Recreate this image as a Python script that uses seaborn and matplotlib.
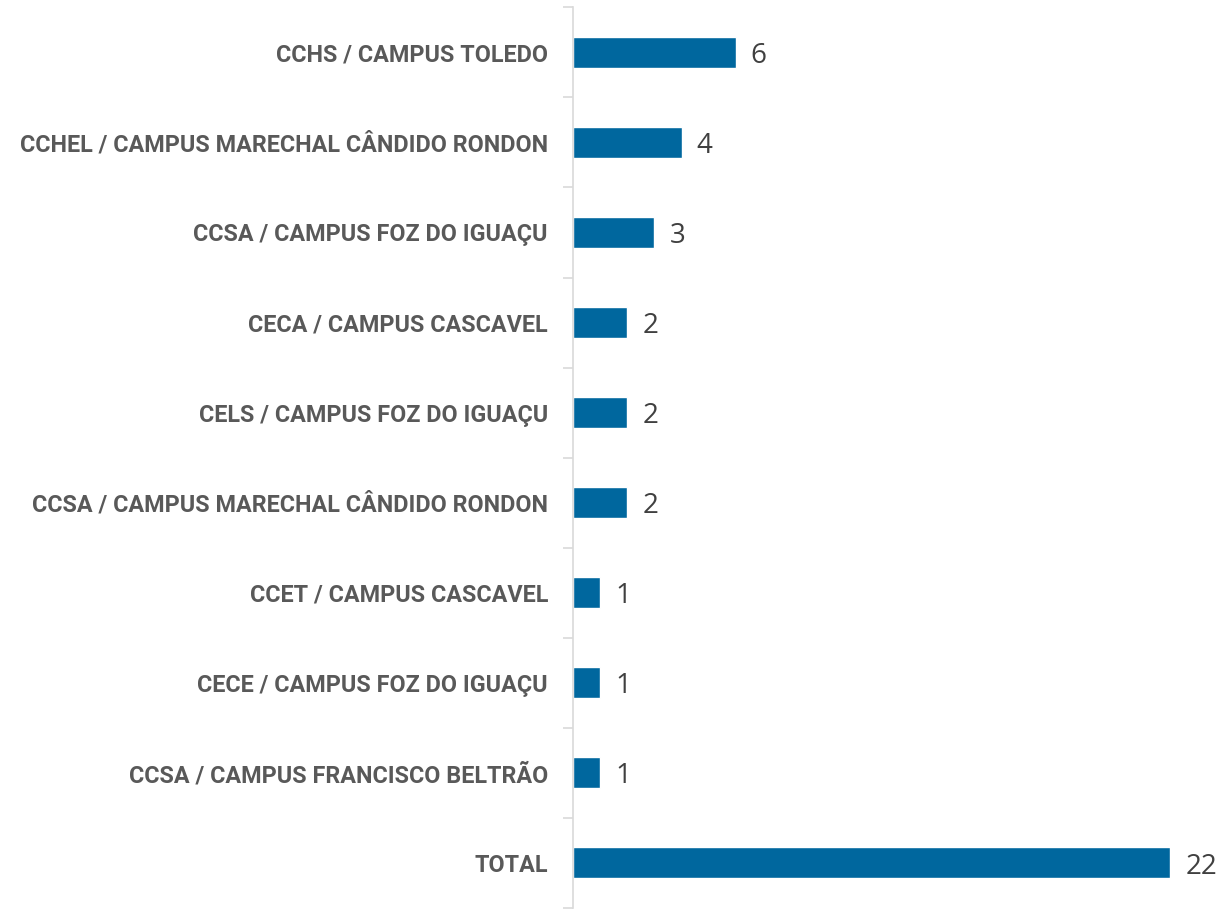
import numpy as np
import pandas as pd
import matplotlib
matplotlib.use("Agg")
import matplotlib.pyplot as plt
import seaborn as sns

categories = [
    "CCHS / CAMPUS TOLEDO",
    "CCHEL / CAMPUS MARECHAL CÂNDIDO RONDON",
    "CCSA / CAMPUS FOZ DO IGUAÇU",
    "CECA / CAMPUS CASCAVEL",
    "CELS / CAMPUS FOZ DO IGUAÇU",
    "CCSA / CAMPUS MARECHAL CÂNDIDO RONDON",
    "CCET / CAMPUS CASCAVEL",
    "CECE / CAMPUS FOZ DO IGUAÇU",
    "CCSA / CAMPUS FRANCISCO BELTRÃO",
    "TOTAL",
]
values = [6, 4, 3, 2, 2, 2, 1, 1, 1, 22]

df = pd.DataFrame({"categoria": categories, "valor": values})

sns.set_style("white")
fig = plt.figure(figsize=(12.23, 9.13), dpi=100)
ax = fig.add_axes([0.4685, 0.0055, 0.4885, 0.9865])

sns.barplot(data=df, x="valor", y="categoria", orient="h", color="#00679E",
            width=0.345, saturation=1, ax=ax)

ax.set_xlim(0, 22)
ax.set_ylim(len(categories) - 0.5, -0.5)
ax.set_xlabel("")
ax.set_ylabel("")
ax.set_xticks([])

ax.set_yticks(range(len(categories)))
ax.set_yticklabels(categories, fontfamily=["Liberation Sans Narrow", "Roboto", "DejaVu Sans"],
                   fontweight="bold", fontsize=16.8, color="#595959")
ax.tick_params(axis="y", which="major", left=False, length=0, pad=18)
ax.set_yticks(np.arange(-0.5, len(categories)), minor=True)
ax.tick_params(axis="y", which="minor", left=True, length=7, width=1.2,
               color="#D9D9D9", direction="out")

for s in ["top", "right", "bottom"]:
    ax.spines[s].set_visible(False)
ax.spines["left"].set_color("#D9D9D9")
ax.spines["left"].set_linewidth(1.2)

for i, v in enumerate(values):
    ax.text(v + 0.55, i + 0.04, str(v), va="center", ha="left", fontsize=20,
            color="#404040", family=["Open Sans", "DejaVu Sans"], clip_on=False)

plt.savefig("out.png", dpi=100)
plt.close()
